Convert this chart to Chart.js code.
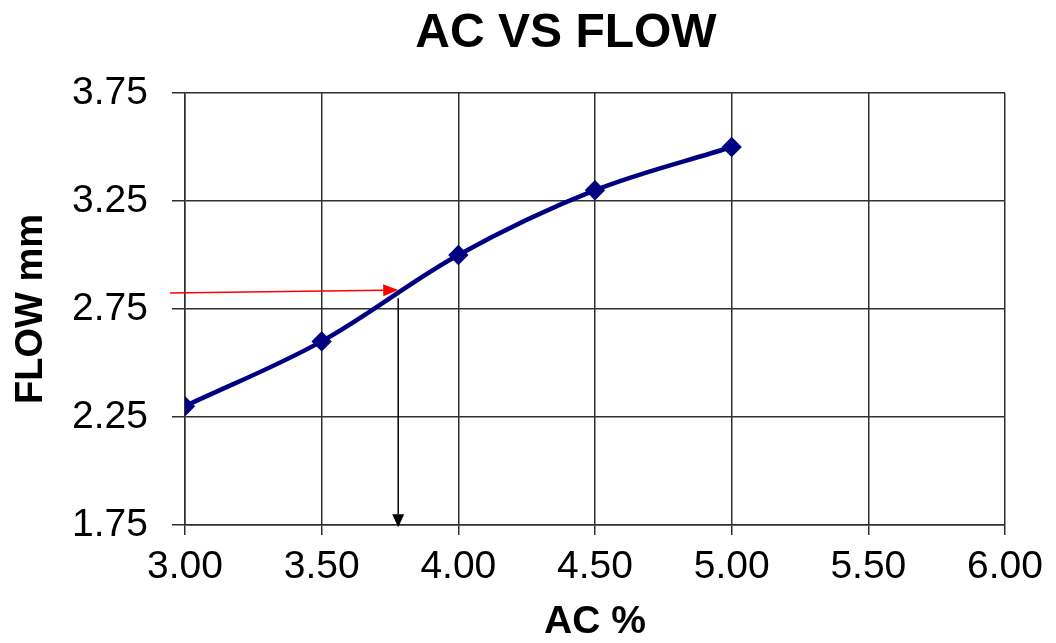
<!DOCTYPE html>
<html>
<head>
<meta charset="utf-8">
<script src="https://cdn.jsdelivr.net/npm/chart.js@4"></script>
<style>
html,body{margin:0;padding:0;background:#fff;}
#wrap{width:1056px;height:643px;}
</style>
</head>
<body>
<div id="wrap"><canvas id="c" width="1056" height="643"></canvas></div>
<script>
const acPercent = [3.0, 3.5, 4.0, 4.5, 5.0];
const flowMm = [2.30, 2.60, 3.00, 3.30, 3.50];
const xTickValues = [3.0, 3.5, 4.0, 4.5, 5.0, 5.5, 6.0];
const yTickValues = [1.75, 2.25, 2.75, 3.25, 3.75];
const redArrowX = [2.945, 3.78];
const redArrowY = [2.824, 2.838];
const blackArrowX = [3.78, 3.78];
const blackArrowY = [2.80, 1.74];
const chartTitle = 'AC VS FLOW';

const FONT = '"Liberation Sans", Arial, sans-serif';
const GRID = '#303030';

function arrow(ctx, x1, y1, x2, y2, color, width, headLen, headW) {
  const ang = Math.atan2(y2 - y1, x2 - x1);
  const bx = x2 - headLen * Math.cos(ang);
  const by = y2 - headLen * Math.sin(ang);
  ctx.save();
  ctx.strokeStyle = color;
  ctx.fillStyle = color;
  ctx.lineWidth = width;
  ctx.beginPath();
  ctx.moveTo(x1, y1);
  ctx.lineTo(bx, by);
  ctx.stroke();
  ctx.beginPath();
  ctx.moveTo(x2, y2);
  ctx.lineTo(bx + headW / 2 * Math.sin(ang), by - headW / 2 * Math.cos(ang));
  ctx.lineTo(bx - headW / 2 * Math.sin(ang), by + headW / 2 * Math.cos(ang));
  ctx.closePath();
  ctx.fill();
  ctx.restore();
}

const arrowPlugin = {
  id: 'arrows',
  afterDatasetsDraw(chart) {
    const xs = chart.scales.x, ys = chart.scales.y, ctx = chart.ctx;
    arrow(ctx,
      xs.getPixelForValue(blackArrowX[0]), ys.getPixelForValue(blackArrowY[0]),
      xs.getPixelForValue(blackArrowX[1]), ys.getPixelForValue(blackArrowY[1]),
      '#000', 1.5, 13, 12);
    arrow(ctx,
      xs.getPixelForValue(redArrowX[0]), ys.getPixelForValue(redArrowY[0]),
      xs.getPixelForValue(redArrowX[1]), ys.getPixelForValue(redArrowY[1]),
      '#ff0000', 1.5, 15, 12);
  }
};

const titlePlugin = {
  id: 'customTitle',
  afterDraw(chart) {
    const ctx = chart.ctx;
    ctx.save();
    ctx.fillStyle = '#000';
    ctx.font = 'bold 48px ' + FONT;
    ctx.textAlign = 'center';
    ctx.textBaseline = 'alphabetic';
    ctx.fillText(chartTitle, 566, 47);
    ctx.restore();
  }
};

new Chart(document.getElementById('c'), {
  type: 'line',
  data: {
    datasets: [{
      data: acPercent.map((x, i) => ({x: x, y: flowMm[i]})),
      borderColor: '#000080',
      backgroundColor: '#000080',
      borderWidth: 4.5,
      pointStyle: 'rectRot',
      pointRadius: 7,
      pointHoverRadius: 7,
      tension: 0.35,
      fill: false
    }]
  },
  options: {
    responsive: false,
    animation: false,
    devicePixelRatio: 1,
    layout: {padding: {left: 0, right: 51, top: 93, bottom: 0}},
    plugins: {
      legend: {display: false},
      tooltip: {enabled: false},
      title: {display: false}
    },
    scales: {
      x: {
        type: 'linear',
        min: 3, max: 6,
        afterBuildTicks: s => { s.ticks = xTickValues.map(v => ({value: v})); },
        afterFit: s => { s.height = 118; },
        ticks: {
          color: '#000',
          font: {family: FONT, size: 39},
          padding: 9,
          maxRotation: 0,
          callback: v => Number(v).toFixed(2)
        },
        grid: {color: GRID, lineWidth: 1.5, tickLength: 10, tickColor: GRID},
        border: {color: GRID, width: 1.5},
        title: {
          display: true, text: 'AC %', color: '#000',
          font: {family: FONT, size: 39, weight: 'bold', lineHeight: 1.0},
          padding: {top: 0, bottom: 1}
        }
      },
      y: {
        type: 'linear',
        min: 1.75, max: 3.75,
        afterBuildTicks: s => { s.ticks = yTickValues.map(v => ({value: v})); },
        afterFit: s => { s.width = 185; },
        ticks: {
          color: '#000',
          font: {family: FONT, size: 39},
          padding: 24,
          callback: v => Number(v).toFixed(2)
        },
        grid: {color: GRID, lineWidth: 1.5, tickLength: 13, tickColor: GRID},
        border: {color: GRID, width: 1.5},
        title: {
          display: true, text: 'FLOW mm', color: '#000',
          font: {family: FONT, size: 38, weight: 'bold', lineHeight: 1.0},
          padding: {top: 13, bottom: 0}
        }
      }
    }
  },
  plugins: [arrowPlugin, titlePlugin]
});
</script>
</body>
</html>
